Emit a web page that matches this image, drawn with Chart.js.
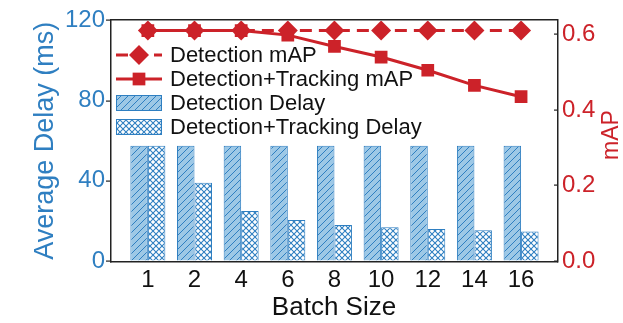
<!DOCTYPE html>
<html>
<head>
<meta charset="utf-8">
<script src="https://cdn.jsdelivr.net/npm/chart.js@4.4.1/dist/chart.umd.min.js"></script>
<style>
    body { margin: 0; background: #fff; }
    #wrap { width: 623px; height: 323px; }
</style>
</head>
<body>
<div id="wrap"><canvas id="delayChart" width="623" height="323"></canvas></div>
<script>
// values
var batchSizes = ['1', '2', '4', '6', '8', '10', '12', '14', '16'];
var detectionDelay = [57.5, 57.5, 57.5, 57.5, 57.5, 57.5, 57.5, 57.5, 57.5];
var trackingDelay = [57.5, 39, 25, 20.5, 18, 16.8, 16, 15.3, 14.7];
var detectionMap = [0.61, 0.61, 0.61, 0.61, 0.61, 0.61, 0.61, 0.61, 0.61];
var trackingMap = [0.61, 0.61, 0.61, 0.598, 0.568, 0.54, 0.505, 0.465, 0.435];
var delayTicks = [0, 40, 80, 120];
var mapTicks = [0, 0.2, 0.4, 0.6];

var FONT = "'Liberation Sans', Arial, sans-serif";
var BLUE = '#2f7fc1';
var LIGHT_BLUE = '#9dc8e6';
var RED = '#cc2229';
var DARK = '#222222';

var toPoints = function (values) {
    return values.map(function (v, i) { return { x: i, y: v }; });
};

// hatch fills for the bars
var makeHatch = function () {
    var c = document.createElement('canvas');
    c.width = 7; c.height = 7;
    var g = c.getContext('2d');
    g.fillStyle = LIGHT_BLUE;
    g.fillRect(0, 0, 7, 7);
    g.strokeStyle = BLUE;
    g.lineWidth = 1;
    g.beginPath();
    g.moveTo(-1, 8); g.lineTo(8, -1);
    g.moveTo(-1, 1); g.lineTo(1, -1);
    g.moveTo(6, 8); g.lineTo(8, 6);
    g.stroke();
    return g.createPattern(c, 'repeat');
};

var makeCross = function () {
    var c = document.createElement('canvas');
    c.width = 6; c.height = 6;
    var g = c.getContext('2d');
    g.fillStyle = '#fff';
    g.fillRect(0, 0, 6, 6);
    g.strokeStyle = BLUE;
    g.lineWidth = 1.1;
    g.beginPath();
    g.moveTo(-1, 7); g.lineTo(7, -1);
    g.moveTo(-1, -1); g.lineTo(7, 7);
    g.stroke();
    return g.createPattern(c, 'repeat');
};

var hatch = makeHatch();
var cross = makeCross();

var legendItems = [
    { text: 'Detection mAP', kind: 'line', dash: [12, 7], point: 'rectRot', radius: 10 },
    { text: 'Detection+Tracking mAP', kind: 'line', dash: [], point: 'rect', radius: 9 },
    { text: 'Detection Delay', kind: 'box', fill: hatch },
    { text: 'Detection+Tracking Delay', kind: 'box', fill: cross }
];

var framePlugin = {
    id: 'plotFrame',
    afterDraw: function (chart) {
        var ctx = chart.ctx;
        var xs = chart.scales.x, yl = chart.scales.y, yr = chart.scales.y1;
        var l = Math.round(xs.left), r = Math.round(xs.right);
        var t = Math.round(yl.top), b = Math.round(yl.bottom);
        ctx.save();
        ctx.fillStyle = DARK;
        // frame as filled strips
        ctx.fillRect(l - 1, t - 1, r - l + 2, 1.5);
        ctx.fillRect(l - 1, b, r - l + 2, 1.5);
        ctx.fillRect(l - 1, t - 1, 1.5, b - t + 2.5);
        ctx.fillRect(r, t - 1, 1.5, b - t + 2.5);

        // small tick marks
        delayTicks.forEach(function (v) {
            var py = Math.round(yl.getPixelForValue(v));
            ctx.fillRect(l - 5, py - 0.5, 4, 1.2);
        });
        mapTicks.forEach(function (v) {
            var py = Math.round(yr.getPixelForValue(v));
            ctx.fillRect(r - 3, py - 0.5, 3, 1.2);
        });

        // legend
        var x0 = 116, x1 = 162, y = 55;
        ctx.font = '22px ' + FONT;
        ctx.textBaseline = 'middle';
        legendItems.forEach(function (item) {
            if (item.kind === 'line') {
                ctx.strokeStyle = RED;
                ctx.lineWidth = 3;
                ctx.setLineDash(item.dash);
                ctx.beginPath();
                ctx.moveTo(x0, y);
                ctx.lineTo(x1, y);
                ctx.stroke();
                ctx.setLineDash([]);
                ctx.fillStyle = RED;
                Chart.helpers.drawPoint(ctx, { pointStyle: item.point, radius: item.radius, borderWidth: 0 }, (x0 + x1) / 2, y);
            } else {
                ctx.fillStyle = item.fill;
                ctx.fillRect(x0, y - 8, x1 - x0, 16);
                ctx.strokeStyle = BLUE;
                ctx.lineWidth = 1;
                ctx.strokeRect(x0 + 0.5, y - 7.5, x1 - x0 - 1, 15);
            }
            ctx.fillStyle = '#111';
            ctx.fillText(item.text, 170, y + 1);
            y += 24;
        });

        // right axis title reads bottom to top
        ctx.translate(612, 135);
        ctx.rotate(-Math.PI / 2);
        ctx.fillStyle = RED;
        ctx.font = '23px ' + FONT;
        ctx.textAlign = 'center';
        ctx.fillText('mAP', 0, 0);
        ctx.restore();
    }
};

var config = {
    type: 'bar',
    data: {
        datasets: [
            {
                type: 'line',
                label: 'Detection mAP',
                data: toPoints(detectionMap),
                yAxisID: 'y1',
                borderColor: RED,
                backgroundColor: RED,
                borderWidth: 3,
                borderDash: [12, 7],
                pointStyle: 'rectRot',
                pointRadius: 10,
                pointBorderWidth: 0,
                order: 0
            },
            {
                type: 'line',
                label: 'Detection+Tracking mAP',
                data: toPoints(trackingMap),
                yAxisID: 'y1',
                borderColor: RED,
                backgroundColor: RED,
                borderWidth: 3,
                pointStyle: 'rect',
                pointRadius: 9,
                pointBorderWidth: 0,
                order: 1
            },
            {
                label: 'Detection Delay',
                data: toPoints(detectionDelay),
                yAxisID: 'y',
                backgroundColor: hatch,
                borderColor: BLUE,
                borderWidth: 1,
                order: 2
            },
            {
                label: 'Detection+Tracking Delay',
                data: toPoints(trackingDelay),
                yAxisID: 'y',
                backgroundColor: cross,
                borderColor: BLUE,
                borderWidth: 1,
                order: 3
            }
        ]
    },
    options: {
        responsive: false,
        animation: false,
        layout: { padding: { top: 19, left: 0, right: 0, bottom: 0 } },
        datasets: {
            bar: { categoryPercentage: 0.75, barPercentage: 1.0 }
        },
        plugins: {
            legend: { display: false },
            tooltip: { enabled: false }
        },
        scales: {
            x: {
                type: 'linear',
                offset: false,
                min: -0.79,
                max: 8.77,
                grid: { display: false, drawTicks: false },
                border: { display: false },
                afterBuildTicks: function (scale) {
                    scale.ticks = batchSizes.map(function (_, i) { return { value: i }; });
                },
                afterFit: function (scale) { scale.height = 62; },
                ticks: {
                    padding: 5,
                    color: '#111',
                    font: { family: FONT, size: 24 },
                    callback: function (v) { return batchSizes[v]; }
                },
                title: {
                    display: true,
                    text: 'Batch Size',
                    color: '#111',
                    padding: 0,
                    font: { family: FONT, size: 26 }
                }
            },
            y: {
                position: 'left',
                min: 0,
                max: 120,
                afterBuildTicks: function (scale) {
                    scale.ticks = delayTicks.map(function (v) { return { value: v }; });
                },
                afterFit: function (scale) { scale.width = 111; },
                grid: { drawOnChartArea: false, drawTicks: false },
                border: { display: false },
                ticks: {
                    padding: 6,
                    color: BLUE,
                    font: { family: FONT, size: 24 }
                },
                title: {
                    display: true,
                    text: 'Average Delay (ms)',
                    color: BLUE,
                    padding: { top: 29 },
                    font: { family: FONT, size: 27 }
                }
            },
            y1: {
                position: 'right',
                min: 0,
                max: 0.637,
                afterBuildTicks: function (scale) {
                    scale.ticks = mapTicks.map(function (v) { return { value: v }; });
                },
                afterFit: function (scale) { scale.width = 66; },
                grid: { drawOnChartArea: false, drawTicks: false },
                border: { display: false },
                ticks: {
                    padding: 5,
                    color: RED,
                    font: { family: FONT, size: 24 },
                    callback: function (v) { return v.toFixed(1); }
                }
            }
        }
    },
    plugins: [framePlugin]
};

new Chart(document.getElementById('delayChart'), config);
</script>
</body>
</html>
